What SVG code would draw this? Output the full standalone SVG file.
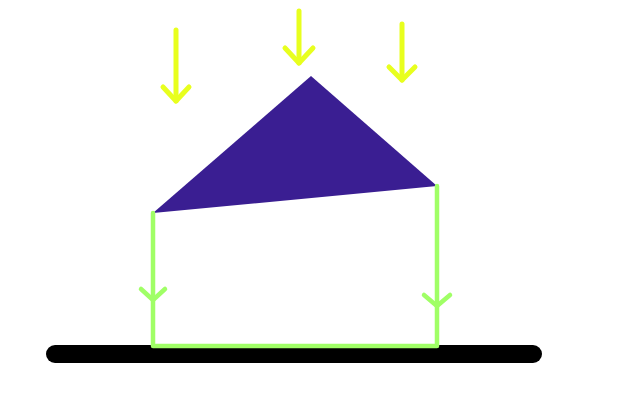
<svg xmlns="http://www.w3.org/2000/svg" width="640" height="400" viewBox="0 0 640 400">
<style>
.sun{fill:none;stroke:#e8ff1e;stroke-width:5;stroke-linecap:round;stroke-linejoin:round}
.flow{fill:none;stroke:#a0ff66;stroke-width:4.5;stroke-linecap:round;stroke-linejoin:round}
</style>
<rect width="640" height="400" fill="#ffffff"/>
<line x1="55" y1="354" x2="533" y2="354" stroke="#000000" stroke-width="18" stroke-linecap="round"/>
<polygon points="153,213 311,76 437,186" fill="#3a1e92"/>
<g class="flow">
<polyline points="153,213 153,346 437,346 437,186"/>
<polyline points="141,289 153,300 165,289"/>
<polyline points="424,295 437,306 450,295"/>
</g>
<g class="sun">
<line x1="176" y1="30" x2="176" y2="101"/>
<polyline points="163,87 176,101 189,87"/>
<line x1="299" y1="11" x2="299" y2="63"/>
<polyline points="285,48 299,63 313,48"/>
<line x1="402" y1="24" x2="402" y2="80"/>
<polyline points="389,67 402,80 415,67"/>
</g>
</svg>
